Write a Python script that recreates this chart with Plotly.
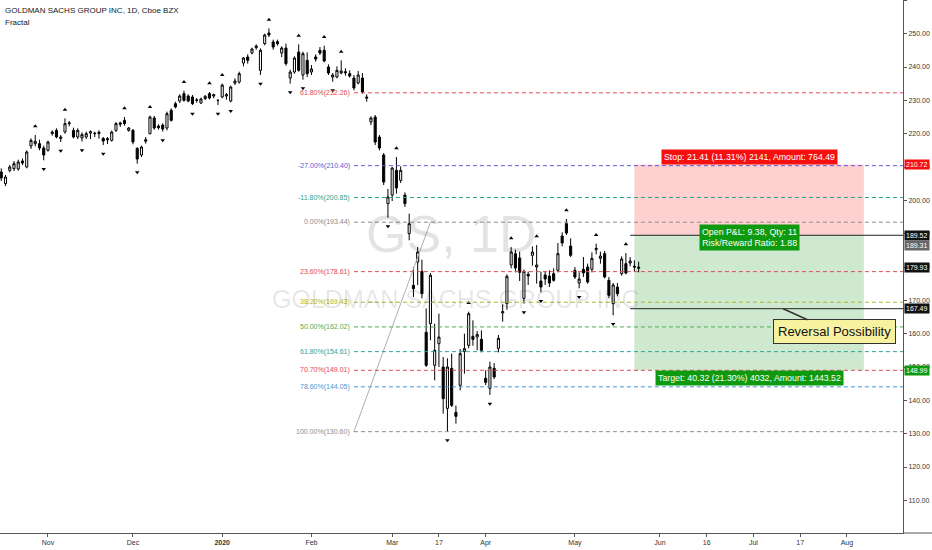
"""
Graphique GS 1D avec retracements de Fibonacci et position longue (style TradingView)
"""

import pandas as pd
import plotly.graph_objects as go

# Jours fériés NYSE sur la période (aussi utilisés pour les rangebreaks)
HOLIDAYS = [
    "2019-11-28", "2019-12-25", "2020-01-01", "2020-01-20",
    "2020-02-17", "2020-04-10", "2020-05-25", "2020-07-03",
]

FIRST_DAY = "2019-10-17"

# Bougies journalières, du 17 oct. 2019 au 22 mai 2020
OPEN = [
    208.5, 205.0, 209.0, 209.5, 209.4, 211.8, 210.0, 216.3, 217.0, 217.0, 215.7,
    215.0, 220.0, 221.0, 218.5, 220.5, 223.0, 221.0, 219.0, 218.7, 219.0, 220.2,
    220.0, 220.0, 218.6, 218.5, 218.0, 221.0, 222.8, 224.0, 221.0,
    221.0, 215.6, 213.6, 217.7, 220.0, 224.7, 222.3, 222.6, 221.7, 227.0, 229.0,
    229.8, 232.0, 231.3, 231.0, 230.0, 229.2, 230.5, 232.0, 231.3, 230.0,
    231.0, 231.3, 229.8, 235.2, 235.5, 241.2, 243.0, 244.2, 245.8, 239.0, 247.0,
    250.2, 247.5, 247.6, 244.2, 245.7, 236.7, 238.5, 244.5, 237.6, 242.0,
    238.5, 243.0, 245.0, 245.0, 240.0, 237.0, 237.0, 238.2, 238.6, 238.0, 236.7,
    235.2, 236.7, 231.0, 223.5, 225.0, 219.0, 213.6, 199.0,
    201.6, 209.0, 206.0, 201.6, 190.0, 174.5, 181.5, 178.7, 160.4, 163.0, 150.5,
    157.0, 150.0, 137.6, 149.6, 136.4, 144.5, 154.7, 156.5, 159.2, 159.0, 158.3,
    146.6, 143.6, 149.6, 155.6, 166.2, 169.0, 180.6, 184.0, 182.7, 170.6, 177.8,
    183.5, 180.0, 175.8, 177.6, 177.3, 178.0, 179.0, 189.3, 193.0, 186.3,
    179.0, 175.2, 179.3, 180.0, 179.3, 185.2, 182.6, 184.0, 176.0, 169.0, 174.0,
    178.0, 181.0, 181.2, 180.2, 179.6,
]
HIGH = [
    209.6, 207.6, 210.6, 211.8, 212.2, 212.6, 215.0, 218.6, 219.6, 218.2, 216.4,
    217.9, 221.0, 221.6, 219.6, 224.6, 223.8, 221.8, 221.6, 220.4, 220.6, 221.0,
    220.6, 221.0, 219.0, 219.0, 220.9, 223.5, 223.6, 225.0, 222.0,
    221.4, 215.9, 216.4, 219.0, 225.4, 225.3, 222.8, 223.1, 226.6, 227.6, 229.6,
    231.8, 232.9, 231.8, 231.6, 230.7, 230.8, 231.6, 232.5, 232.0, 230.2,
    235.0, 232.2, 234.4, 236.6, 238.6, 243.0, 243.8, 245.8, 246.8, 245.6, 250.0,
    251.6, 248.2, 248.2, 246.2, 247.0, 239.2, 243.2, 246.8, 244.6, 244.4,
    240.6, 243.8, 246.0, 246.4, 240.8, 238.2, 240.2, 242.0, 239.6, 239.0, 237.6,
    238.8, 238.2, 231.8, 225.2, 225.6, 219.6, 214.2, 203.4,
    210.0, 213.0, 210.2, 202.4, 196.0, 180.0, 186.0, 182.2, 167.6, 178.2, 163.0,
    166.0, 153.0, 152.6, 154.0, 138.4, 155.4, 160.0, 166.6, 164.0, 160.8, 161.0,
    149.0, 151.6, 151.2, 159.6, 168.8, 177.8, 186.0, 185.2, 184.6, 179.2, 178.6,
    186.2, 186.6, 178.6, 178.8, 179.0, 179.6, 187.2, 190.4, 194.4, 188.6,
    180.0, 178.4, 183.0, 181.0, 184.4, 187.0, 184.6, 184.8, 177.0, 175.2, 175.2,
    183.2, 184.2, 183.0, 182.0, 181.6,
]
LOW = [
    205.8, 204.3, 208.4, 208.8, 208.9, 210.6, 209.6, 215.4, 216.2, 215.0, 212.0,
    214.6, 219.4, 218.6, 217.5, 220.0, 222.2, 218.6, 218.4, 217.6, 218.4, 218.4,
    219.0, 218.5, 216.6, 216.9, 217.6, 220.5, 222.0, 222.4, 220.6,
    216.8, 211.0, 213.0, 217.0, 219.8, 221.2, 221.2, 220.6, 221.0, 223.6, 227.6,
    229.2, 229.6, 229.4, 228.6, 229.3, 228.9, 230.1, 230.3, 230.6, 228.6,
    230.6, 230.2, 229.4, 234.6, 235.0, 240.2, 241.0, 243.8, 245.2, 237.6, 246.5,
    249.0, 245.2, 246.4, 243.0, 240.4, 235.0, 238.0, 238.6, 236.2, 237.0,
    237.6, 241.6, 243.6, 241.4, 237.6, 235.6, 236.6, 237.8, 237.4, 236.8, 233.0,
    234.8, 232.0, 229.6, 222.6, 216.6, 215.0, 204.6, 194.8,
    199.8, 202.0, 205.2, 198.0, 188.0, 171.0, 174.6, 170.6, 150.0, 158.0, 146.0,
    150.0, 136.0, 130.6, 138.0, 133.0, 143.0, 148.0, 155.6, 156.4, 155.0, 154.4,
    144.6, 141.6, 146.4, 154.4, 163.6, 167.2, 179.6, 178.4, 175.8, 169.0, 174.6,
    180.4, 175.0, 172.4, 174.6, 174.0, 175.6, 178.4, 186.2, 189.6, 183.0,
    176.4, 173.6, 177.0, 175.0, 178.4, 183.8, 181.0, 176.6, 170.6, 165.5, 171.2,
    177.4, 177.8, 180.2, 178.6, 178.4,
]
CLOSE = [
    206.7, 207.0, 210.0, 211.0, 211.5, 211.2, 214.5, 218.0, 217.7, 215.7, 213.6,
    217.5, 220.5, 219.0, 219.0, 223.0, 223.2, 219.0, 221.0, 219.7, 220.0, 220.6,
    220.1, 220.4, 217.8, 218.2, 220.5, 223.0, 223.2, 223.0, 221.7,
    217.5, 212.4, 216.0, 218.2, 225.0, 221.7, 221.8, 221.4, 226.0, 224.0, 228.0,
    231.3, 230.0, 229.8, 229.0, 230.1, 230.4, 231.2, 230.7, 231.7, 230.0,
    234.6, 231.7, 234.0, 235.8, 238.0, 242.7, 242.0, 245.4, 246.3, 245.0, 249.6,
    249.6, 246.0, 247.0, 245.7, 241.0, 238.5, 242.7, 239.0, 244.0, 238.0,
    239.4, 242.4, 244.2, 241.8, 238.2, 237.6, 239.0, 238.8, 238.3, 237.3, 233.7,
    237.6, 232.5, 230.7, 224.7, 217.5, 215.7, 205.5, 201.0,
    209.7, 203.7, 209.0, 199.0, 193.0, 173.5, 184.5, 172.0, 150.5, 177.5, 155.0,
    159.0, 140.5, 150.0, 138.5, 135.2, 154.0, 155.5, 166.0, 158.3, 159.8, 155.0,
    145.4, 150.0, 147.0, 158.6, 166.6, 177.2, 184.5, 179.7, 178.4, 178.7, 177.3,
    184.5, 180.6, 174.0, 176.4, 175.2, 176.0, 184.0, 187.2, 190.2, 183.5,
    177.0, 176.4, 178.2, 175.5, 182.6, 185.6, 183.3, 177.0, 171.5, 174.6, 172.0,
    182.4, 178.2, 181.8, 180.0, 179.93,
]

# Retracements de Fibonacci
FIB_LEVELS = [232.26, 210.40, 200.85, 193.44, 178.61, 169.43, 162.02, 154.61, 149.01, 144.05, 130.60]
FIB_RATIOS = ["61.80%", "-27.00%", "-11.80%", "0.00%", "23.60%", "38.20%",
              "50.00%", "61.80%", "70.70%", "78.60%", "100.00%"]
FIB_COLORS = ["#e0475a", "#5b5bd8", "#2ba68c", "#8c8c8c", "#e0475a", "#aab82c",
              "#4caf50", "#26a69a", "#e0475a", "#3f9ad6", "#8c8c8c"]
FIB_START = "2020-02-18"
TREND_DATES = ["2020-02-18", "2020-03-13"]
TREND_PRICES = [130.60, 193.44]

# Position longue
ENTRY = 189.52
STOP = 210.72
TARGET = 148.99
LAST_PRICE = 189.31
CLOSE_PRICE = 179.93
REVERSAL_LEVEL = 167.49
BOX_DATES = ["2020-05-21", "2020-08-07"]
LINE_START = "2020-05-20"
LABEL_DATE = "2020-06-30"
CALLOUT_DATE = "2020-07-13"

X_RANGE = ["2019-10-16 17:00", "2020-08-20 05:00"]
Y_RANGE = [100.2, 260.1]
TICK_DATES = ["2019-11-01", "2019-12-02", "2020-01-02", "2020-02-03", "2020-03-02",
              "2020-03-17", "2020-04-01", "2020-05-01", "2020-06-01", "2020-06-16",
              "2020-07-01", "2020-07-17", "2020-08-03"]
TICK_LABELS = ["Nov", "Dec", "<b>2020</b>", "Feb", "Mar", "17", "Apr", "May",
               "Jun", "16", "Jul", "17", "Aug"]

FONT = "Liberation Sans, Arial, sans-serif"


def trading_days(start: str, n: int) -> list:
    """Jours de bourse à partir de start (week-ends et fériés exclus)."""
    days = pd.bdate_range(start, periods=n + 30)
    days = [d for d in days if d.strftime("%Y-%m-%d") not in HOLIDAYS]
    return days[:n]


def fractals(high: list, low: list):
    """Indicateur Fractal de Williams (5 bougies)."""
    ups, downs = [], []
    for i in range(2, len(high) - 2):
        if high[i] > max(high[i - 2:i] + high[i + 1:i + 3]):
            ups.append(i)
        if low[i] < min(low[i - 2:i] + low[i + 1:i + 3]):
            downs.append(i)
    return ups, downs


def create_chart() -> go.Figure:
    dates = trading_days(FIRST_DAY, len(CLOSE))
    fig = go.Figure()

    fig.add_trace(
        go.Candlestick(
            x=dates, open=OPEN, high=HIGH, low=LOW, close=CLOSE,
            increasing=dict(line=dict(color="#000000", width=1), fillcolor="#ffffff"),
            decreasing=dict(line=dict(color="#000000", width=1), fillcolor="#000000"),
            whiskerwidth=0, showlegend=False, hoverinfo="skip",
        )
    )

    # Fractales au-dessus / au-dessous des bougies
    ups, downs = fractals(HIGH, LOW)
    fig.add_trace(
        go.Scatter(
            x=[dates[i] for i in ups], y=[HIGH[i] + 2.6 for i in ups],
            mode="markers", marker=dict(symbol="triangle-up", size=4, color="#000000"),
            showlegend=False, hoverinfo="skip",
        )
    )
    fig.add_trace(
        go.Scatter(
            x=[dates[i] for i in downs], y=[LOW[i] - 2.6 for i in downs],
            mode="markers", marker=dict(symbol="triangle-down", size=4, color="#000000"),
            showlegend=False, hoverinfo="skip",
        )
    )

    # Ligne de tendance du retracement
    fig.add_trace(
        go.Scatter(
            x=TREND_DATES, y=TREND_PRICES, mode="lines",
            line=dict(color="#b0b0b0", width=1), showlegend=False, hoverinfo="skip",
        )
    )

    # Zones de risque / objectif
    fig.add_shape(type="rect", x0=BOX_DATES[0], x1=BOX_DATES[1], y0=ENTRY, y1=STOP,
                  fillcolor="rgba(255,82,82,0.27)", line_width=0, layer="below")
    fig.add_shape(type="rect", x0=BOX_DATES[0], x1=BOX_DATES[1], y0=TARGET, y1=ENTRY,
                  fillcolor="rgba(76,175,80,0.27)", line_width=0, layer="below")

    # Niveaux de Fibonacci
    for level, ratio, color in zip(FIB_LEVELS, FIB_RATIOS, FIB_COLORS):
        fig.add_shape(type="line", x0=FIB_START, x1=X_RANGE[1], y0=level, y1=level,
                      line=dict(color=color, width=1, dash="4px,3px"))
        fig.add_annotation(x=FIB_START, y=level, text=f"{ratio}({level:.2f})",
                           showarrow=False, xanchor="right", xshift=-2,
                           font=dict(family=FONT, size=7, color=color))

    for level in (ENTRY, REVERSAL_LEVEL):
        fig.add_shape(type="line", x0=LINE_START, x1=X_RANGE[1], y0=level, y1=level,
                      line=dict(color="#222222", width=1))

    # Étiquettes de la position
    label = dict(showarrow=False, font=dict(family=FONT, size=8.8, color="#ffffff"), borderpad=2)
    fig.add_annotation(x=LABEL_DATE, y=STOP, yanchor="bottom", yshift=0, bgcolor="#f50f0f",
                       text="Stop: 21.41 (11.31%) 2141, Amount: 764.49", **label)
    fig.add_annotation(x=LABEL_DATE, y=ENTRY, yanchor="middle", yshift=-2, bgcolor="#0e9a0e",
                       text="Open P&L: 9.38, Qty: 11<br>Risk/Reward Ratio: 1.88", **label)
    fig.add_annotation(x=LABEL_DATE, y=TARGET, yanchor="top", yshift=0, bgcolor="#0e9a0e",
                       text="Target: 40.32 (21.30%) 4032, Amount: 1443.52", **label)

    # Bulle "Reversal Possibility"
    fig.add_annotation(
        x=CALLOUT_DATE, y=REVERSAL_LEVEL, text="Reversal Possibility",
        showarrow=True, arrowhead=0, arrowwidth=1.5, arrowcolor="#333333",
        ax=51, ay=23, bgcolor="#f7f2a0", bordercolor="#333333", borderwidth=1,
        borderpad=4, font=dict(family=FONT, size=13, color="#111111"),
    )

    # Étiquettes de prix sur l'axe droit
    price_tags = [
        (STOP, "#f50f0f", 0), (ENTRY, "#111111", 0), (LAST_PRICE, "#666666", -10),
        (CLOSE_PRICE, "#111111", 0), (REVERSAL_LEVEL, "#111111", 0), (TARGET, "#0e9a0e", 0),
    ]
    for price, color, shift in price_tags:
        fig.add_annotation(x=1, xref="paper", y=price, xanchor="left", xshift=1, yshift=shift,
                           text=f"{price:.2f}", showarrow=False, bgcolor=color, borderpad=1,
                           font=dict(family=FONT, size=7, color="#ffffff"))

    # Filigrane et titre
    fig.add_annotation(x=0.5, xref="paper", xshift=0, y=190, yref="y",
                       text="GS, 1D", showarrow=False,
                       font=dict(family=FONT, size=52, color="rgba(0,0,0,0.11)"))
    fig.add_annotation(x=0.5, xref="paper", xshift=4, y=170.5, yref="y",
                       text="GOLDMAN SACHS GROUP INC", showarrow=False,
                       font=dict(family=FONT, size=25, color="rgba(0,0,0,0.11)"))
    fig.add_annotation(x=0, xref="paper", y=1, yref="paper", xanchor="left", yanchor="top",
                       xshift=3, yshift=-4, showarrow=False,
                       text="GOLDMAN SACHS GROUP INC, 1D, Cboe BZX",
                       font=dict(family=FONT, size=8, color="#131722"))
    fig.add_annotation(x=0, xref="paper", y=1, yref="paper", xanchor="left", yanchor="top",
                       xshift=3, yshift=-16, showarrow=False, text="Fractal",
                       font=dict(family=FONT, size=8, color="#131722"))

    # Prolongement de la ligne d'axe sous l'échelle de prix
    fig.add_shape(type="line", xref="paper", yref="paper", x0=1, x1=1.04, y0=0, y1=0,
                  line=dict(color="#555555", width=1))

    fig.update_layout(
        width=932, height=550,
        margin=dict(l=0, r=29, t=0, b=17),
        paper_bgcolor="#ffffff", plot_bgcolor="#ffffff",
        showlegend=False, hovermode=False,
        font=dict(family=FONT, size=7, color="#333333"),
        xaxis=dict(
            type="date", range=X_RANGE, rangeslider=dict(visible=False),
            rangebreaks=[dict(bounds=["sat", "mon"]), dict(values=HOLIDAYS)],
            tickvals=TICK_DATES, ticktext=TICK_LABELS,
            showgrid=False, zeroline=False,
            showline=True, linecolor="#555555", linewidth=1,
            ticks="outside", ticklen=3, tickcolor="#555555",
            tickfont=dict(family=FONT, size=7, color="#333333"),
        ),
        yaxis=dict(
            side="right", range=Y_RANGE, dtick=10, tickformat=".2f",
            showgrid=False, zeroline=False,
            showline=True, linecolor="#555555", linewidth=1,
            ticks="outside", ticklen=3, tickcolor="#555555",
            tickfont=dict(family=FONT, size=7, color="#333333"),
        ),
    )
    return fig


if __name__ == "__main__":
    fig = create_chart()
    # la page ne doit pas décaler le graphique (marge par défaut du body)
    fig.write_html(
        "out.html",
        config={"displayModeBar": False},
        post_script="document.body.style.margin = '0';",
    )
